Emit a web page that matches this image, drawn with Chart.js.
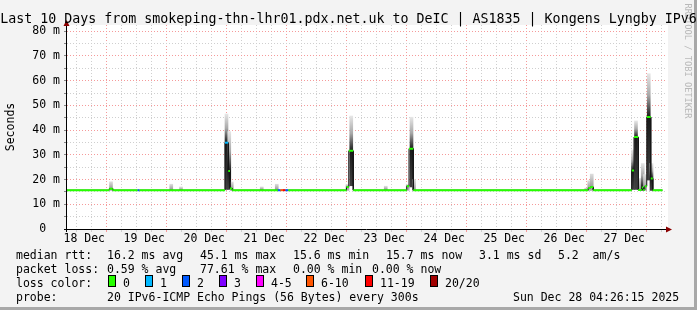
<!DOCTYPE html>
<html><head><meta charset="utf-8">
<script src="https://cdn.jsdelivr.net/npm/chart.js@4/dist/chart.umd.min.js"></script>
<style>
body{margin:0;background:#f3f3f3;}
#wrap{position:relative;width:697px;height:310px;overflow:hidden;background:#f3f3f3;font-family:'DejaVu Sans Mono',monospace;color:#000;}
#c{position:absolute;left:0;top:0;}
.t{position:absolute;white-space:pre;font-size:11.5px;line-height:14px;}
.sw{position:absolute;width:8px;height:12px;border:1px solid #000;box-sizing:border-box;}
#title{position:absolute;left:0;width:697px;top:11px;text-align:center;white-space:pre;font-size:13.3px;line-height:16px;z-index:2;}
#ylab{position:absolute;left:-30px;top:120px;width:80px;text-align:center;transform:rotate(-90deg);font-size:11.5px;line-height:14px;}
#wm{position:absolute;left:628px;top:56px;width:120px;text-align:center;transform:rotate(90deg);font-size:8.7px;line-height:10px;color:#b8b8b8;white-space:pre;}
#shadowR{position:absolute;left:694px;top:0;width:3px;height:310px;background:#a8a8a8;}
#shadowB{position:absolute;left:0;top:307px;width:697px;height:3px;background:#a8a8a8;}
</style></head><body>
<div id="wrap">
<canvas id="c" width="697" height="310"></canvas>
<div id="shadowR"></div><div id="shadowB"></div>
<div id="title">Last 10 Days from smokeping-thn-lhr01.pdx.net.uk to DeIC | AS1835 | Kongens Lyngby IPv6</div>
<div id="ylab">Seconds</div>
<div id="wm">RRDTOOL / TOBI OETIKER</div>
<div class="t" style="left:16px;top:247.5px">median rtt:</div>
<div class="t" style="left:107px;top:247.5px">16.2 ms avg</div>
<div class="t" style="left:200px;top:247.5px">45.1 ms max</div>
<div class="t" style="left:293px;top:247.5px">15.6 ms min</div>
<div class="t" style="left:386px;top:247.5px">15.7 ms now</div>
<div class="t" style="left:479px;top:247.5px">3.1 ms sd</div>
<div class="t" style="left:558px;top:247.5px">5.2  am/s</div>
<div class="t" style="left:16px;top:261.5px">packet loss:</div>
<div class="t" style="left:107px;top:261.5px">0.59 % avg</div>
<div class="t" style="left:200px;top:261.5px">77.61 % max</div>
<div class="t" style="left:293px;top:261.5px">0.00 % min</div>
<div class="t" style="left:372px;top:261.5px">0.00 % now</div>
<div class="t" style="left:16px;top:275.5px">loss color:</div>
<div id="lossLegend"></div>
<div class="t" style="left:16px;top:289.5px">probe:</div>
<div class="t" style="left:107px;top:289.5px">20 IPv6-ICMP Echo Pings (56 Bytes) every 300s</div>
<div class="t" style="left:513px;top:289.5px">Sun Dec 28 04:26:15 2025</div>
</div>
<script>
// ---- data (hours since 18 Dec 00:00, values in ms) ----
const dayLabels = ['18 Dec','19 Dec','20 Dec','21 Dec','22 Dec','23 Dec','24 Dec','25 Dec','26 Dec','27 Dec'];
const yTickLabels = ['0  ','10 m','20 m','30 m','40 m','50 m','60 m','70 m','80 m'];
const lossLabels = ['0','1','2','3','4-5','6-10','11-19','20/20'];
const lossColors = ['#26ff00','#00b8ff','#0059ff','#7e00ff','#ff00ff','#ff5500','#ff0000','#a10000'];

// median rtt runs
const medianStart = [5.1,22.0,23.4,33.3,34.1,68.3,69.6,70.3,71.2,89.4,90.4,91.5,92.5,93.6,116.9,117.8,119.6,141.0,141.9,143.6,213.6,214.5,215.6,231.0,231.9,233.6,235.0,235.6,236.2,237.0,238.6,239.4];
const medianEnd   = [22.0,23.4,33.3,34.1,68.3,69.6,70.3,71.2,89.4,90.4,91.5,92.5,93.6,116.9,117.8,119.6,141.0,141.9,143.6,213.6,214.5,215.6,231.0,231.9,233.6,235.0,235.6,236.2,237.0,238.6,239.4,243.3];
const medianMs    = [15.7,16.3,15.7,15.7,15.7,34.9,23.5,16.4,15.7,15.7,15.7,15.7,15.7,15.7,17.0,31.6,15.7,17.3,32.5,15.7,16.6,17.0,15.7,23.7,37.2,15.8,16.8,15.8,17.3,45.3,20.4,15.7];
const medianLoss  = [0,0,0,2,0,1,0,0,0,2,5,6,2,0,0,0,0,0,0,0,0,0,0,0,0,0,0,0,0,0,0,0];

// smoke columns
const smokeHour = [22.7,46.8,50.7,68.9,70.0,71.0,83.0,89.0,117.3,118.8,132.6,141.4,142.9,143.9,212.8,214.0,215.0,231.5,232.7,234.2,235.4,236.3,237.8,238.9];
const smokeLow  = [15.6,15.6,15.6,16.0,16.0,15.6,15.6,15.6,15.6,17.5,15.6,15.6,17.0,15.6,15.6,15.6,15.6,16.0,16.0,15.6,15.6,15.6,19.8,15.6];
const smokeMid  = [16.3,15.9,15.8,34.9,23.5,16.4,15.9,16.0,17.0,31.6,16.0,17.3,32.5,16.0,16.0,16.6,17.0,23.7,37.2,15.9,16.8,16.0,45.3,20.4];
const smokeHigh = [19.1,18.1,17.0,46.5,39.4,19.0,17.0,18.1,18.0,45.7,17.3,18.0,45.2,20.0,16.5,19.5,22.2,32.0,43.7,20.4,26.5,22.0,62.8,26.5];

// ---- loss legend ----
const swX = [108,145,182,219,256,306,365,430];
const lg = document.getElementById('lossLegend');
lossLabels.forEach((l,i)=>{
  const b=document.createElement('div'); b.className='sw';
  b.style.left=swX[i]+'px'; b.style.top='275px'; b.style.background=lossColors[i]; lg.appendChild(b);
  const t=document.createElement('div'); t.className='t'; t.textContent=l;
  t.style.left=(swX[i]+15)+'px'; t.style.top='275.5px'; lg.appendChild(t);
});

// ---- datasets ----
const smokeData = smokeHour.map((h,i)=>({x:h,y:[smokeLow[i],smokeHigh[i]]}));
const darkData = [];
medianStart.forEach((s,i)=>{darkData.push({x:s,y:medianMs[i]});darkData.push({x:medianEnd[i],y:medianMs[i]});});
const lossSets = [];
lossLabels.forEach((l,k)=>{
  const d=[];
  medianStart.forEach((s,i)=>{ if(medianLoss[i]===k){ d.push({x:s,y:medianMs[i]}); d.push({x:medianEnd[i],y:medianMs[i]}); d.push({x:medianEnd[i],y:null}); } });
  if(d.length) lossSets.push({type:'line',data:d,borderColor:lossColors[k],borderWidth:2,pointRadius:0,spanGaps:false,order:1});
});

function smokeColor(ctx){
  const chart=ctx.chart, a=chart.chartArea;
  if(!a) return '#cccccc';
  const i=ctx.dataIndex, ys=chart.scales.y;
  const top=ys.getPixelForValue(smokeHigh[i]), bot=ys.getPixelForValue(smokeLow[i]), med=ys.getPixelForValue(smokeMid[i]);
  const g=chart.ctx.createLinearGradient(0,top,0,bot+0.01);
  let f=(med-top)/Math.max(bot-top,0.01); f=Math.min(Math.max(f,0),1);
  if(smokeHigh[i]-smokeLow[i]<8){ g.addColorStop(0,'#dcdcdc'); g.addColorStop(f,'#9a9a9a'); g.addColorStop(1,'#b0b0b0'); }
  else { g.addColorStop(0,'#e6e6e6'); g.addColorStop(f*0.5,'#a8a8a8'); g.addColorStop(f,'#1a1a1a'); g.addColorStop(1,'#404040'); }
  return g;
}

const RED='#f59a9a', GRAY='#cfcfcf';
const framePlugin={
  id:'frame',
  beforeDraw(chart){const {ctx,chartArea:a}=chart;ctx.save();ctx.fillStyle='#ffffff';ctx.fillRect(a.left,a.top,a.right-a.left+1,a.bottom-a.top);ctx.restore();},
  afterDraw(chart){
    const {ctx,chartArea:a}=chart; const y0=Math.round(chart.scales.y.getPixelForValue(0));
    ctx.save(); ctx.strokeStyle='#000'; ctx.lineWidth=1;
    ctx.beginPath(); ctx.moveTo(a.left-3,y0+0.5); ctx.lineTo(a.right+2,y0+0.5);
    ctx.moveTo(a.left-0.5,y0+3); ctx.lineTo(a.left-0.5,a.top-2); ctx.stroke();
    ctx.fillStyle='#8b0000';
    ctx.beginPath(); ctx.moveTo(a.left-0.5,a.top-5); ctx.lineTo(a.left-3.5,a.top+1); ctx.lineTo(a.left+2.5,a.top+1); ctx.closePath(); ctx.fill();
    ctx.beginPath(); ctx.moveTo(a.right+5,y0+0.5); ctx.lineTo(a.right-1,y0-2.5); ctx.lineTo(a.right-1,y0+3.5); ctx.closePath(); ctx.fill();
    ctx.restore();
  }
};

const FONT={family:"'DejaVu Sans Mono', monospace",size:11.5};
new Chart(document.getElementById('c'),{
  type:'bar',
  data:{datasets:[
    {type:'bar',data:smokeData,backgroundColor:smokeColor,borderWidth:0,barThickness:3,order:3},
    {type:'line',data:darkData,borderColor:'#141414',borderWidth:1,pointRadius:0,order:2},
    ...lossSets
  ]},
  options:{
    responsive:false,animation:false,devicePixelRatio:1,
    layout:{autoPadding:false,padding:{left:0,top:25,right:30,bottom:0}},
    plugins:{legend:{display:false},tooltip:{enabled:false}},
    scales:{
      x:{type:'linear',min:5.1,max:245.1,offset:false,
        afterBuildTicks:(s)=>{const t=[];for(let h=6;h<=240;h+=6)t.push({value:h});s.ticks=t;},
        afterFit:(s)=>{s.height=81;},
        ticks:{autoSkip:false,maxRotation:0,padding:0,color:'#000',font:FONT,
          callback:(v)=> (v%24===12)? dayLabels[(v-12)/24] : ''},
        grid:{color:(c)=> (c.tick && c.tick.value%24===0)?RED:GRAY,tickColor:(c)=> (c.tick && c.tick.value%24===0)?RED:GRAY,tickLength:3,lineWidth:1},
        border:{display:false,dash:[1,2]}
      },
      y:{type:'linear',min:0,max:82.5,
        afterBuildTicks:(s)=>{const t=[];for(let v=0;v<=80;v+=5)t.push({value:v});s.ticks=t;},
        afterFit:(s)=>{s.width=67;},
        ticks:{autoSkip:false,padding:4,color:'#000',font:FONT,
          callback:(v)=> (v%10===0)? yTickLabels[v/10] : ''},
        grid:{color:(c)=> (c.tick && c.tick.value%10===0)?RED:GRAY,tickColor:'#888',tickLength:3,lineWidth:1},
        border:{display:false,dash:[1,2]}
      }
    }
  },
  plugins:[framePlugin]
});
</script>
</body></html>
